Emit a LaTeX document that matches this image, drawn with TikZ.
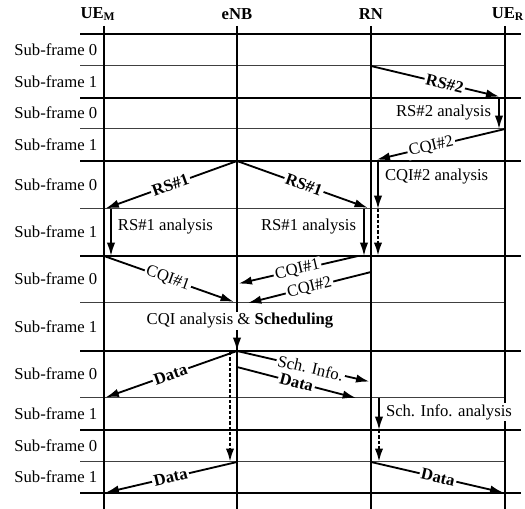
\documentclass[tikz,border=0pt]{standalone}
\usepackage{fontspec}
\setmainfont{Liberation Serif}
\usetikzlibrary{arrows.meta}

\begin{document}
\begin{tikzpicture}[x=0.6pt, y=-0.6pt, >={Latex[length=8pt,width=5pt]},
  frame/.style={line width=1pt},
  subframe/.style={line width=0.6pt, black!75},
  life/.style={line width=1pt},
  msg/.style={->, line width=1.1pt},
  wait/.style={->, line width=1.4pt, dash pattern=on 2pt off 1.2pt},
  lbl/.style={sloped, fill=white, inner sep=1pt},
  note/.style={fill=white, inner sep=1pt}]

  \useasboundingbox (0,0) rectangle (525,509);

  % sub-frame boundaries
  \foreach \y/\w/\s [count=\i] in {34/521/frame, 66/505/subframe, 98/521/frame,
      129/505/subframe, 161/521/frame, 209/505/subframe, 256/521/frame,
      303/505/subframe, 351/521/frame, 398/505/subframe, 430/521/frame,
      462/505/subframe, 493/521/frame} {
    \coordinate (h\i) at (80,\y);
    \draw[\s] (h\i) -- (\w,\y);
  }
  % row labels
  \foreach \y/\n [count=\i] in {50/0, 82/1, 113/0, 145/1, 185/0, 232/1,
      279/0, 327/1, 374/0, 414/1, 446/0, 477/1}
    \node[anchor=west, inner sep=0pt] (sf\i) at (14,\y) {Sub-frame \n};

  % entities and their time lines
  \node[font=\bfseries] (ueM) at (98,14) {UE\textsubscript{M}};
  \node[font=\bfseries] (enb) at (237,14) {eNB};
  \node[font=\bfseries] (rn) at (371,14) {RN};
  \node[font=\bfseries] (ueR) at (508,14) {UE\textsubscript{R}};
  \foreach \n/\x in {M/104, E/237, R/371, U/505} {
    \coordinate (\n) at (\x,26);
    \draw[life] (\n) -- (\x,509);
  }

  % RS#2 towards UE_R and its report
  \draw[msg, shorten >=3.5pt] (R |- h2) -- node[lbl, font=\bfseries, pos=0.55] {RS\#2} (U |- h3);
  \coordinate (k1) at (499,98);
  \draw[msg] (k1) -- (k1 |- h4);
  \node[note, anchor=east] (t1) at (493,113) {RS\#2 analysis};
  \draw[msg, shorten >=3.5pt] (U |- h4) -- node[lbl, pos=0.55] {CQI\#2} (R |- h5);
  \coordinate (k2) at (378,161);
  \draw[msg] (k2) -- (k2 |- h6);
  \draw[wait] (k2 |- h6) -- (k2 |- h7);
  \node[note, anchor=west] (t2) at (383,177) {CQI\#2 analysis};

  % RS#1 from eNB
  \draw[msg, shorten >=1pt] (E |- h5) -- node[lbl, font=\bfseries] {RS\#1} (M |- h6);
  \draw[msg, shorten >=2pt] (E |- h5) -- node[lbl, font=\bfseries] {RS\#1} (R |- h6);
  \coordinate (k3) at (111,209);
  \coordinate (k4) at (364,209);
  \draw[msg] (k3) -- (k3 |- h7);
  \draw[msg] (k4) -- (k4 |- h7);
  \node[note, anchor=west] (t3) at (116,227) {RS\#1 analysis};
  \node[note, anchor=east] (t4) at (358,227) {RS\#1 analysis};

  % CQI reports to eNB
  \coordinate (q1) at (358,256);
  \coordinate (q2) at (237,284);
  \coordinate (q3) at (371,272);
  \coordinate (q4) at (248,303);
  \draw[msg, shorten >=2pt] (M |- h7) -- node[lbl, pos=0.48] {CQI\#1} (E |- h8);
  \draw[msg, shorten >=1pt] (q1) -- node[lbl] {CQI\#1} (q2);
  \draw[msg] (q3) -- node[lbl] {CQI\#2} (q4);
  \node[note] (sched) at (240,321) {CQI analysis \& \textbf{Scheduling}};
  \draw[msg] (sched.south -| E) -- (E |- h9);

  % data and scheduling info
  \draw[msg, shorten >=1pt] (E |- h9) -- node[lbl, font=\bfseries] {Data} (M |- h10);
  \coordinate (k5) at (230,352);
  \draw[wait] (k5) -- (k5 |- h12);
  \coordinate (q5) at (371,382);
  \draw[msg, shorten >=1pt] (E |- h9) -- node[lbl, pos=0.55] {Sch. Info.} (q5);
  \coordinate (q6) at (237,367);
  \coordinate (q7) at (356,398);
  \draw[msg] (q6) -- node[lbl, font=\bfseries] {Data} (q7);
  \coordinate (k6) at (379,398);
  \draw[msg] (k6) -- (k6 |- h11);
  \draw[wait] (k6 |- h11) -- (k6 |- h12);
  \node[note, anchor=west] (t5) at (384,412) {Sch. Info. analysis};

  % forwarded data
  \draw[msg, shorten >=1pt] (E |- h12) -- node[lbl, font=\bfseries] {Data} (M |- h13);
  \draw[msg, shorten >=1pt] (R |- h12) -- node[lbl, font=\bfseries] {Data} (U |- h13);
\end{tikzpicture}
\end{document}
